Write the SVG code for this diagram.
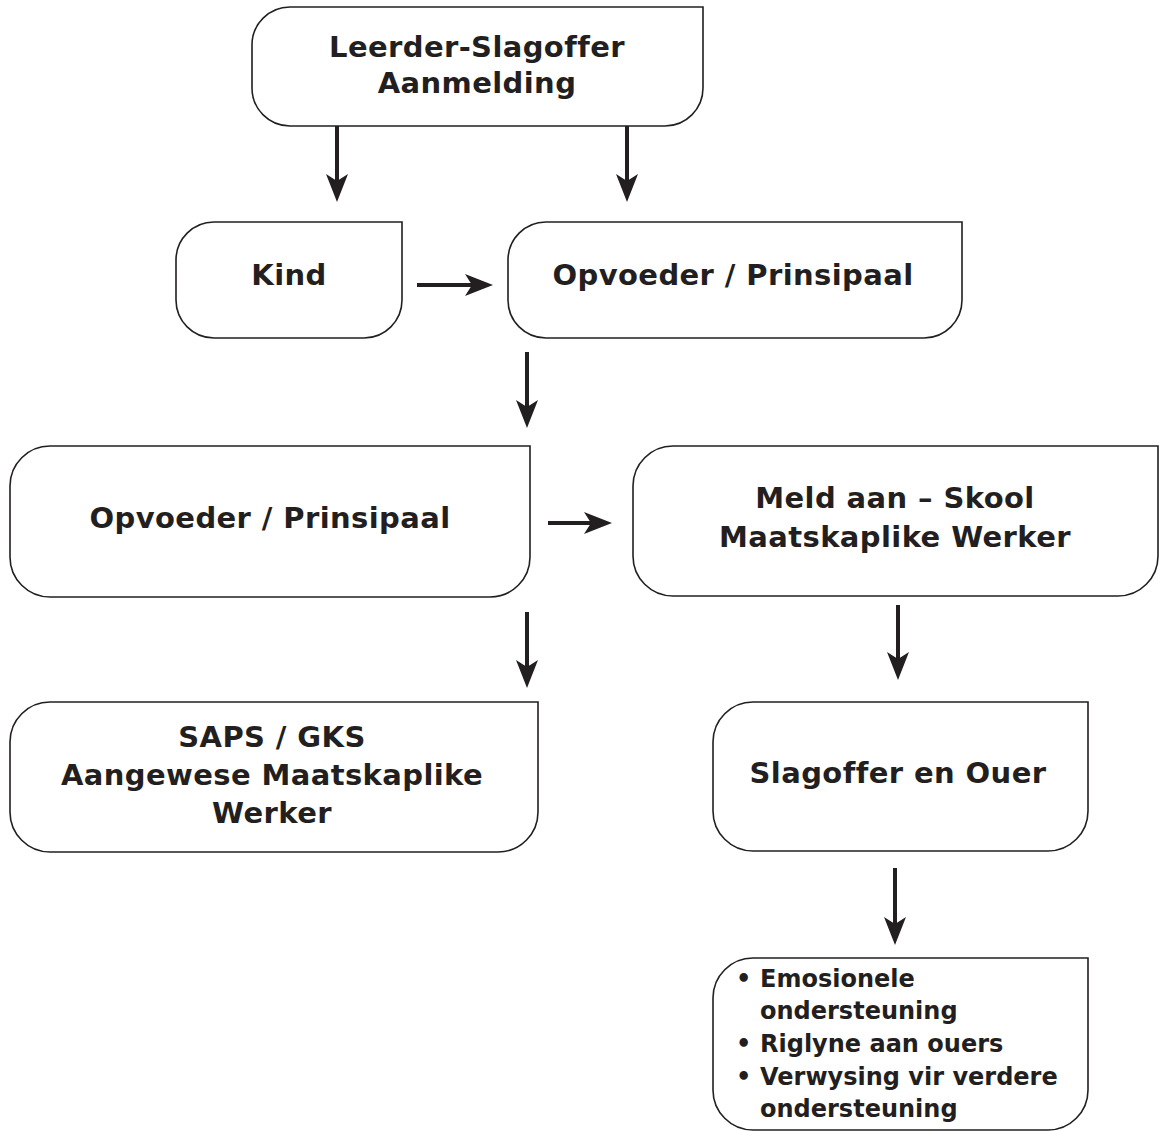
<svg xmlns="http://www.w3.org/2000/svg" width="1160" height="1131" viewBox="0 0 1160 1131">
<defs>
<style>
.box{fill:#fff;stroke:#231f20;stroke-width:1.6}
.t{font-family:"DejaVu Sans","Open Sans",sans-serif;font-weight:700;font-size:29px;letter-spacing:0.4px;fill:#231f20;text-anchor:middle}
.b{font-family:"DejaVu Sans","Open Sans",sans-serif;font-weight:700;font-size:24px;fill:#231f20}
.c{stroke:#231f20;stroke-width:4;fill:none}
</style>
<marker id="ah" markerUnits="userSpaceOnUse" viewBox="0 0 28 22" markerWidth="28" markerHeight="22" refX="16" refY="11" orient="auto">
<path d="M0,0 L28,11 L0,22 L7,11 Z" fill="#231f20"/>
</marker>
</defs>
<rect width="1160" height="1131" fill="#fff"/>
<g id="connectors">
<line class="c" x1="337" y1="126" x2="337" y2="190" marker-end="url(#ah)"/>
<line class="c" x1="627" y1="126" x2="627" y2="190" marker-end="url(#ah)"/>
<line class="c" x1="417" y1="285" x2="481" y2="285" marker-end="url(#ah)"/>
<line class="c" x1="527" y1="352" x2="527" y2="416" marker-end="url(#ah)"/>
<line class="c" x1="548" y1="523" x2="600" y2="523" marker-end="url(#ah)"/>
<line class="c" x1="527" y1="612" x2="527" y2="676" marker-end="url(#ah)"/>
<line class="c" x1="898" y1="605" x2="898" y2="668" marker-end="url(#ah)"/>
<line class="c" x1="895" y1="868" x2="895" y2="933" marker-end="url(#ah)"/>
</g>
<g id="n1">
<path class="box" d="M290,7 H703 V88 A38,38 0 0 1 665,126 H290 A38,38 0 0 1 252,88 V45 A38,38 0 0 1 290,7 Z"/>
<text class="t" x="477" y="57">Leerder-Slagoffer</text>
<text class="t" x="477" y="93">Aanmelding</text>
</g>
<g id="n2">
<path class="box" d="M214,222 H402 V300 A38,38 0 0 1 364,338 H214 A38,38 0 0 1 176,300 V260 A38,38 0 0 1 214,222 Z"/>
<text class="t" x="289" y="285">Kind</text>
</g>
<g id="n3">
<path class="box" d="M546,222 H962 V300 A38,38 0 0 1 924,338 H546 A38,38 0 0 1 508,300 V260 A38,38 0 0 1 546,222 Z"/>
<text class="t" x="733" y="285">Opvoeder / Prinsipaal</text>
</g>
<g id="n4">
<path class="box" d="M50,446 H530 V557 A40,40 0 0 1 490,597 H50 A40,40 0 0 1 10,557 V486 A40,40 0 0 1 50,446 Z"/>
<text class="t" x="270" y="528">Opvoeder / Prinsipaal</text>
</g>
<g id="n5">
<path class="box" d="M673,446 H1158 V556 A40,40 0 0 1 1118,596 H673 A40,40 0 0 1 633,556 V486 A40,40 0 0 1 673,446 Z"/>
<text class="t" x="895" y="508">Meld aan – Skool</text>
<text class="t" x="895" y="547">Maatskaplike Werker</text>
</g>
<g id="n6">
<path class="box" d="M50,702 H538 V812 A40,40 0 0 1 498,852 H50 A40,40 0 0 1 10,812 V742 A40,40 0 0 1 50,702 Z"/>
<text class="t" x="272" y="747">SAPS / GKS</text>
<text class="t" x="272" y="785">Aangewese Maatskaplike</text>
<text class="t" x="272" y="823">Werker</text>
</g>
<g id="n7">
<path class="box" d="M753,702 H1088 V811 A40,40 0 0 1 1048,851 H753 A40,40 0 0 1 713,811 V742 A40,40 0 0 1 753,702 Z"/>
<text class="t" x="898" y="783">Slagoffer en Ouer</text>
</g>
<g id="n8">
<path class="box" d="M753,958 H1088 V1090 A40,40 0 0 1 1048,1130 H753 A40,40 0 0 1 713,1090 V998 A40,40 0 0 1 753,958 Z"/>
<text class="b" x="736" y="987">•</text><text class="b" x="760" y="987">Emosionele</text>
<text class="b" x="760" y="1019">ondersteuning</text>
<text class="b" x="736" y="1052">•</text><text class="b" x="760" y="1052">Riglyne aan ouers</text>
<text class="b" x="736" y="1085">•</text><text class="b" x="760" y="1085">Verwysing vir verdere</text>
<text class="b" x="760" y="1117">ondersteuning</text>
</g>
</svg>
